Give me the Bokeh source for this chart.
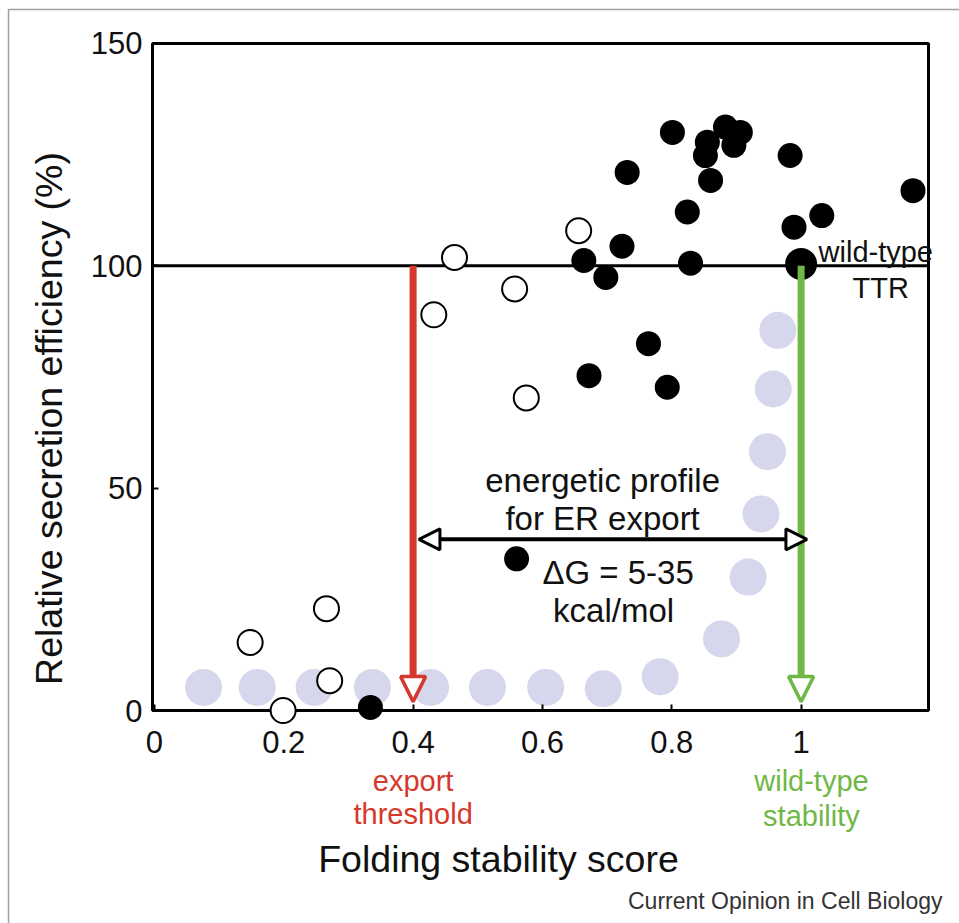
from bokeh.plotting import figure
from bokeh.models import Range1d, FixedTicker, Label, Arrow, NormalHead, BoxAnnotation
from bokeh.embed import file_html
from bokeh.resources import INLINE

# ---------------- data ----------------
# filled black circles: mutants (x = folding stability score, y = relative secretion %)
filled_x = [0.801, 0.855, 0.883, 0.906, 0.896, 0.852, 0.860, 0.731, 0.983, 1.173, 0.824,
            1.032, 0.989, 0.723, 0.664, 0.829, 0.698, 0.764, 0.672, 0.793, 0.560, 0.334]
filled_y = [130.0, 127.8, 131.2, 130.0, 127.1, 124.8, 119.2, 121.0, 124.8, 116.9, 112.1,
            111.3, 108.7, 104.4, 101.2, 100.6, 97.4, 82.5, 75.3, 72.7, 34.1, 0.7]

# open circles
open_x = [0.656, 0.464, 0.432, 0.557, 0.575, 0.148, 0.266, 0.271, 0.199]
open_y = [107.9, 101.9, 89.0, 94.8, 70.3, 15.3, 22.9, 6.7, 0.0]

# lavender sigmoid profile
profile_x = [0.076, 0.159, 0.247, 0.337, 0.427, 0.515, 0.605, 0.694, 0.782, 0.877,
             0.918, 0.938, 0.948, 0.957, 0.964]
profile_y = [5.2, 5.2, 5.2, 5.2, 5.2, 5.2, 5.2, 4.9, 7.6, 16.1, 30.0, 44.2, 58.2, 72.3, 85.5]

# wild-type TTR
wt_x = [1.0]
wt_y = [100.4]

x_ticks = [0, 0.2, 0.4, 0.6, 0.8, 1.0]
x_tick_labels = ["0", "0.2", "0.4", "0.6", "0.8", "1"]
y_ticks = [0, 50, 100, 150]

x_lo, x_hi = -0.003, 1.197   # plotted x extent (box)
y_lo, y_hi = 0, 150          # plotted y extent (box)

wildtype_level = 100        # horizontal wild-type secretion line
threshold_x = 0.4           # export threshold
wildtype_stability_x = 1.0  # wild-type stability
arrow_tip_y = 2.0
window_y = 38.5             # energetic window arrow height
window_start = 0.409
window_end = 1.009

RED = "#d5382c"
GREEN = "#70b845"
LAV = "#d6d7ec"
FONT = "Liberation Sans"

# ---------------- geometry: the frame covers the whole canvas ----------------
W, H = 959, 923
PX0, PX_PER = 153.94, 646.67     # pixel of x=0, pixels per x unit
PY0, PY_PER = 710.0, 4.4467      # pixel of y=0, pixels per y unit

p = figure(width=W, height=H,
           x_range=Range1d(-PX0 / PX_PER, (W - PX0) / PX_PER),
           y_range=Range1d((PY0 - H) / PY_PER, PY0 / PY_PER),
           output_backend="svg", toolbar_location=None,
           min_border_left=0, min_border_right=0, min_border_top=0, min_border_bottom=0)
p.grid.visible = False
p.background_fill_color = "white"
p.border_fill_color = "white"
p.outline_line_color = None

for ax in (p.xaxis[0], p.yaxis[0]):
    ax.axis_line_color = None
    ax.major_tick_in = 6
    ax.major_tick_out = 0
    ax.major_tick_line_color = "black"
    ax.major_tick_line_width = 2
    ax.minor_tick_line_color = None
    ax.major_label_text_font = FONT
    ax.major_label_text_font_size = "31px"
    ax.major_label_text_color = "#111111"
    ax.axis_label_text_font = FONT
    ax.axis_label_text_font_size = "37.5px"
    ax.axis_label_text_font_style = "normal"
    ax.axis_label_text_color = "#111111"

# axis bounds chosen so that the axis titles are centred where they are in the picture
p.xaxis.fixed_location = y_lo
p.xaxis.bounds = (x_lo, 1.0671)
p.xaxis.ticker = FixedTicker(ticks=x_ticks, minor_ticks=[])
p.xaxis.major_label_overrides = {t: s for t, s in zip(x_ticks, x_tick_labels)}
p.xaxis.major_label_standoff = 20
p.xaxis.axis_label = "Folding stability score"
p.xaxis.axis_label_standoff = 82

p.yaxis.fixed_location = x_lo
p.yaxis.bounds = (-18.67, y_hi)
p.yaxis.ticker = FixedTicker(ticks=y_ticks, minor_ticks=[])
p.yaxis.major_label_standoff = 10
p.yaxis.axis_label = "Relative secretion efficiency (%)"
p.yaxis.axis_label_standoff = 18

# plot box
p.add_layout(BoxAnnotation(left=x_lo, right=x_hi, bottom=y_lo, top=y_hi,
                           fill_alpha=0, line_color="black", line_alpha=1.0, line_width=3,
                           level="underlay"))
# light grey page frame (decoration)
p.add_layout(BoxAnnotation(left=(8 - PX0) / PX_PER, right=2.0, top=(PY0 - 9) / PY_PER, bottom=-100,
                           fill_alpha=0, line_color="#a0a0a0", line_alpha=1.0, line_width=1.5,
                           level="underlay"))

# wild-type secretion line
p.segment(x0=x_lo, y0=wildtype_level, x1=x_hi, y1=wildtype_level,
          line_color="black", line_width=3, level="underlay")

# lavender profile
p.scatter(profile_x, profile_y, size=37, fill_color=LAV, line_color=None)
# open circles (drawn above the axis ticks, as in the picture)
p.scatter(open_x, open_y, size=25, fill_color="white", line_color="black", line_width=2,
          level="overlay")
# filled circles
p.scatter(filled_x, filled_y, size=25, fill_color="black", line_color=None)
# wild-type
p.scatter(wt_x, wt_y, size=32, fill_color="black", line_color=None)

# arrows
p.add_layout(Arrow(x_start=threshold_x, y_start=wildtype_level, x_end=threshold_x, y_end=arrow_tip_y,
                   line_color=RED, line_width=7,
                   end=NormalHead(size=25, line_color=RED, line_width=3.5, fill_color="white"),
                   level="overlay"))
p.add_layout(Arrow(x_start=wildtype_stability_x, y_start=wildtype_level,
                   x_end=wildtype_stability_x, y_end=arrow_tip_y,
                   line_color=GREEN, line_width=7,
                   end=NormalHead(size=25, line_color=GREEN, line_width=3.5, fill_color="white"),
                   level="overlay"))
p.add_layout(Arrow(x_start=window_start, y_start=window_y, x_end=window_end, y_end=window_y,
                   line_color="black", line_width=4,
                   start=NormalHead(size=21, line_color="black", line_width=3, fill_color="white"),
                   end=NormalHead(size=21, line_color="black", line_width=3, fill_color="white"),
                   level="overlay"))


def lab(text, x, y, size, color="#111111", align="center", xu="data", yu="data"):
    p.add_layout(Label(x=x, y=y, x_units=xu, y_units=yu, text=text, text_font=FONT,
                       text_font_size=size, text_color=color, text_align=align,
                       text_baseline="middle", level="overlay"))


lab("energetic profile", 0.693, 51.7, "33px")
lab("for ER export", 0.693, 43.2, "33px")
lab("\u0394G = 5-35", 0.717, 31.0, "33px")
lab("kcal/mol", 0.710, 22.5, "33px")

lab("wild-type", 1.027, 103.0, "29px", align="left")
lab("TTR", 1.123, 95.1, "29px")

lab("export", threshold_x, H - 780, "29px", color=RED, yu="screen")
lab("threshold", threshold_x, H - 813, "29px", color=RED, yu="screen")
lab("wild-type", 1.016, H - 780, "29px", color=GREEN, yu="screen")
lab("stability", 1.016, H - 815, "29px", color=GREEN, yu="screen")

lab("Current Opinion in Cell Biology", 942, H - 900, "23px", color="#333333",
    align="right", xu="screen", yu="screen")

open("out.html", "w").write(file_html(p, INLINE))
